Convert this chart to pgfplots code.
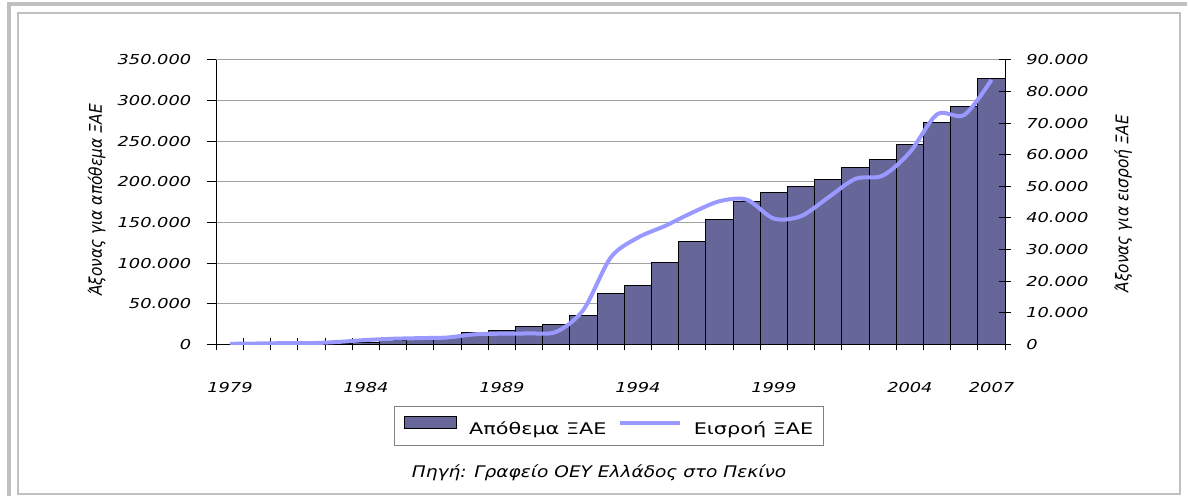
\documentclass[border=0pt]{standalone}
\usepackage{fontspec}
\usepackage{graphicx}
\usepackage{pgfplots}
\pgfplotsset{compat=1.18}
\setmainfont{DejaVu Sans}[FakeStretch=1.3]
\newfontfamily\plainfont{DejaVu Sans}
\definecolor{barc}{HTML}{666699}
\definecolor{linec}{HTML}{9999FF}
\definecolor{framec}{HTML}{C0C0C0}
\definecolor{gridc}{HTML}{A0A0A0}
\newcommand{\tickfont}{\fontsize{13.7bp}{16bp}\selectfont\itshape}
\newcommand{\legfont}{\fontsize{16bp}{19bp}\selectfont}
\pgfplotsset{
  barlegimg/.style={legend image code/.code={\draw[##1] (0bp,0bp) rectangle (52bp,12bp);}},
  linelegimg/.style={legend image code/.code={\draw[##1, line width=3.5bp] (0bp,5.8bp) -- (60bp,5.8bp);}},
}

\begin{document}
\begin{tikzpicture}[x=1bp,y=1bp]
\path (0,0) rectangle (1189,497);
\draw[framec, line width=3.8bp] (8.8,0) -- (8.8,492.7) -- (1189,492.7);
\draw[framec, line width=2bp] (18,2.3) rectangle (1182,484);

\begin{axis}[
  at={(216.7bp,152bp)}, anchor=south west,
  scale only axis, width=790bp, height=285bp,
  xmin=-0.5, xmax=28.5, ymin=0, ymax=350000,
  axis x line*=bottom, axis y line*=left,
  axis line style={black, line width=1bp, -},
  ytick={0,50000,...,350000},
  ymajorgrids, grid style={gridc, line width=1bp},
  xtick={0,5,10,15,20,25,28},
  xticklabels={1979,1984,1989,1994,1999,2004,2007},
  minor xtick={-0.5,0.5,...,28.5},
  major x tick style={draw=none},
  minor tick length=12bp,
  xtick align=center,
  ytick align=outside,
  major tick length=9bp,
  tick style={black, line width=1bp},
  scaled y ticks=false,
  ticklabel style={font=\tickfont},
  yticklabel style={anchor=east, inner sep=0pt, xshift=-16bp},
  xticklabel style={anchor=base, inner sep=0pt, yshift=-44bp},
  /pgf/number format/fixed,
  /pgf/number format/precision=0,
  /pgf/number format/1000 sep={.},
  /pgf/number format/assume math mode=true,
]
\addplot[ybar, bar width=1, fill=barc, draw=black, line width=1bp] coordinates {
(0,0) (1,300) (2,600) (3,1000) (4,1500) (5,3000) (6,4500) (7,6500) (8,8500)
(9,14300) (10,17600) (11,21500) (12,24800) (13,35600) (14,62600) (15,72800)
(16,100300) (17,126900) (18,153900) (19,176000) (20,186300) (21,194000)
(22,202600) (23,217400) (24,228000) (25,246000) (26,273000) (27,292700) (28,326700)
};
\end{axis}

\begin{axis}[
  at={(216.7bp,152bp)}, anchor=south west,
  scale only axis, width=790bp, height=285bp,
  xmin=-0.5, xmax=28.5, ymin=0, ymax=90000,
  axis x line=none, axis y line*=right,
  axis line style={black, line width=1bp, -},
  ytick={0,10000,...,90000},
  ytick align=center,
  major tick length=12bp,
  tick style={black, line width=1bp},
  scaled y ticks=false,
  ticklabel style={font=\tickfont},
  yticklabel style={anchor=west, inner sep=0pt, xshift=15bp},
  /pgf/number format/fixed,
  /pgf/number format/precision=0,
  /pgf/number format/1000 sep={.},
  /pgf/number format/assume math mode=true,
  legend columns=-1,
  legend style={at={(0.4975,-0.2867)}, anchor=center, draw=gray, line width=1bp,
    fill=white, inner xsep=10bp, inner ysep=10bp, font=\legfont,
    nodes={inner sep=0pt},
    /tikz/every odd column/.append style={column sep=12bp},
    /tikz/every even column/.append style={column sep=12bp}},
]
\addlegendimage{fill=barc, draw=black, line width=1bp, barlegimg}
\addlegendentry{Απόθεμα ΞΑΕ}
\addplot[linec, line width=4bp, smooth, linelegimg] coordinates {
(0,200) (1,300) (2,400) (3,400) (4,800) (5,1400) (6,1800) (7,2000) (8,2200)
(9,3200) (10,3400) (11,3500) (12,4000) (13,11000) (14,27500) (15,33800)
(16,37500) (17,41700) (18,45300) (19,45800) (20,39800) (21,40600)
(22,46500) (23,52400) (24,53400) (25,60800) (26,72800) (27,72600) (28,83700)
};
\addlegendentry{Εισροή ΞΑΕ}
\end{axis}

\node[rotate=90] at (97,297) {\scalebox{1.1}[1.25]{\plainfont\itshape\fontsize{14bp}{16bp}\selectfont Άξονας για απόθεμα ΞΑΕ}};
\node[rotate=90] at (1125,293) {\scalebox{1.1}[1.25]{\plainfont\itshape\fontsize{14bp}{16bp}\selectfont Άξονας για εισροή ΞΑΕ}};
\node[anchor=base, inner sep=0pt] at (600,19) {\scalebox{1.16}[1]{\plainfont\itshape\fontsize{16bp}{19bp}\selectfont Πηγή: Γραφείο ΟΕΥ Ελλάδος στο Πεκίνο}};
\end{tikzpicture}
\end{document}
